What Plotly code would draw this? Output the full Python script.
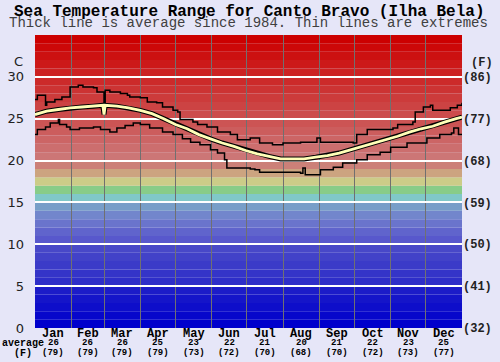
import plotly.graph_objects as go

# ---------------- data ----------------
months = ["Jan", "Feb", "Mar", "Apr", "May", "Jun", "Jul", "Aug", "Sep", "Oct", "Nov", "Dec"]
month_start = [0, 31, 59, 90, 120, 151, 181, 212, 243, 273, 304, 334, 365]
avg_c = [26, 26, 26, 25, 23, 22, 21, 20, 21, 22, 23, 25]
avg_f = [79, 79, 79, 79, 73, 72, 70, 68, 70, 72, 73, 77]

c_ticks = [0, 5, 10, 15, 20, 25, 30]
f_ticks = [32, 41, 50, 59, 68, 77, 86]

max_day = [0, 2, 9, 10, 17, 23, 30, 37, 41, 50, 53, 59, 60, 64, 73, 79, 81, 90, 96,
           104, 109, 118, 122, 124, 135, 139, 147, 156, 167, 173, 184, 192, 203, 212,
           227, 241, 244, 272, 275, 284, 306, 310, 323, 325, 332, 338, 340, 355, 361, 365]
max_temp = [27.3, 27.8, 26.6, 27.0, 27.3, 27.6, 28.8, 29.0, 28.8, 28.7, 28.2, 26.9, 28.4,
            28.2, 28.0, 27.8, 27.6, 27.5, 27.0, 26.9, 26.4, 26.0, 25.8, 24.9, 24.6, 24.3,
            24.0, 23.4, 23.1, 22.5, 22.7, 22.1, 21.9, 22.1, 22.2, 22.7, 22.2, 22.1, 23.1,
            23.7, 23.9, 24.3, 24.6, 25.8, 26.4, 26.6, 26.0, 26.3, 26.6, 26.9]

min_day = [0, 2, 9, 13, 20, 21, 27, 30, 38, 50, 56, 64, 70, 77, 84, 90, 98, 109, 118,
           126, 133, 141, 150, 156, 162, 164, 184, 188, 192, 227, 229, 231, 240, 244,
           255, 263, 275, 284, 295, 304, 318, 335, 346, 356, 358, 362, 365]
min_temp = [23.1, 23.7, 24.0, 24.5, 24.9, 24.3, 24.0, 23.7, 23.9, 24.0, 23.7, 23.4, 23.9,
            24.2, 24.5, 24.3, 23.9, 23.4, 23.1, 22.6, 22.2, 21.9, 21.3, 20.9, 20.1, 19.1,
            19.0, 18.9, 18.6, 18.5, 19.1, 18.3, 18.3, 18.9, 19.2, 19.7, 20.1, 20.7, 21.0,
            21.6, 22.1, 22.7, 23.1, 23.3, 23.9, 23.1, 23.1]

avg_day = [0, 10, 20, 30, 40, 50, 58, 59, 60, 70, 80, 90, 100, 110, 120, 130, 140, 150,
           160, 170, 180, 190, 200, 210, 220, 230, 240, 250, 260, 270, 280, 290, 300,
           310, 320, 330, 340, 350, 360, 365]
avg_temp = [25.5, 25.9, 26.1, 26.3, 26.4, 26.5, 26.6, 25.5, 26.6, 26.5, 26.3, 26.0, 25.6,
            25.0, 24.3, 23.8, 23.1, 22.6, 22.1, 21.7, 21.2, 20.8, 20.5, 20.2, 20.2, 20.2,
            20.4, 20.6, 20.9, 21.3, 21.7, 22.1, 22.5, 22.9, 23.4, 23.8, 24.1, 24.6, 25.0,
            25.2]

# ---------------- style ----------------
BG = "#E6E6F8"
MONO = "Liberation Mono, Courier New, monospace"
SANS = "DejaVu Sans, Verdana, sans-serif"

stops = {0: (0, 0, 204), 4: (28, 28, 200), 5: (46, 46, 200), 9: (72, 72, 200),
         10: (88, 88, 204), 11: (96, 100, 204), 12: (106, 116, 204), 13: (114, 134, 204),
         14: (120, 158, 200), 15: (128, 200, 200), 16: (136, 204, 136), 17: (204, 204, 136),
         18: (204, 164, 128), 19: (204, 128, 120), 20: (204, 118, 118), 34: (204, 0, 0)}


def band_color(i):
    keys = sorted(stops)
    for a, b in zip(keys[:-1], keys[1:]):
        if a <= i <= b:
            t = (i - a) / (b - a)
            c = [round(stops[a][k] + (stops[b][k] - stops[a][k]) * t) for k in range(3)]
            return "rgb(%d,%d,%d)" % tuple(c)
    return "rgb(%d,%d,%d)" % stops[keys[-1]]


fig = go.Figure()

fig.add_trace(go.Scatter(x=max_day, y=max_temp, mode="lines", line=dict(color="black", width=1.5, shape="hv"),
                         hoverinfo="skip", showlegend=False))
fig.add_trace(go.Scatter(x=min_day, y=min_temp, mode="lines", line=dict(color="black", width=1.5, shape="hv"),
                         hoverinfo="skip", showlegend=False))
fig.add_trace(go.Scatter(x=avg_day, y=avg_temp, mode="lines", line=dict(color="black", width=5),
                         hoverinfo="skip", showlegend=False))
fig.add_trace(go.Scatter(x=avg_day, y=avg_temp, mode="lines", line=dict(color="#FFFFB8", width=2.8),
                         hoverinfo="skip", showlegend=False))
fig.add_trace(go.Scatter(x=[month_start[0]], y=[f_ticks[0]], yaxis="y2", mode="markers",
                         marker=dict(opacity=0), hoverinfo="skip", showlegend=False))

shapes = []
for i in range(35):
    shapes.append(dict(type="rect", xref="paper", yref="y", x0=0, x1=1, y0=i, y1=i + 1,
                       fillcolor=band_color(i), line=dict(width=0), layer="below"))

annotations = [
    dict(text="<b>Sea Temperature Range for Canto Bravo (Ilha Bela)</b>", xref="paper", yref="paper",
         x=0.5, y=1, yshift=23, xanchor="center", yanchor="middle", showarrow=False,
         font=dict(family=MONO, size=16, color="black")),
    dict(text="Thick line is average since 1984. Thin lines are extremes", xref="paper", yref="paper",
         x=0.5, y=1, yshift=12, xanchor="center", yanchor="middle", showarrow=False,
         font=dict(family=MONO, size=14, color="#404040")),
    dict(text="C", xref="paper", yref="y", x=0, xshift=-17, y=31.8, xanchor="center", yanchor="middle",
         showarrow=False, font=dict(family=SANS, size=13, color="#222")),
    dict(text="<b>(F)</b>", xref="paper", yref="y", x=1, xshift=20, y=31.7, xanchor="center", yanchor="middle",
         showarrow=False, font=dict(family=MONO, size=12, color="#222")),
    dict(text="<b>average</b>", xref="paper", yref="paper", x=0, xshift=-12, y=0, yshift=-15,
         xanchor="center", yanchor="middle", showarrow=False, font=dict(family=MONO, size=10, color="black")),
    dict(text="<b>(F)</b>", xref="paper", yref="paper", x=0, xshift=-12, y=0, yshift=-25,
         xanchor="center", yanchor="middle", showarrow=False, font=dict(family=MONO, size=10, color="black")),
]
for i, m in enumerate(months):
    mid = (month_start[i] + month_start[i + 1]) / 2
    annotations.append(dict(text="<b>%s</b>" % m, xref="x", yref="paper", x=mid, y=0, yshift=-6,
                            xanchor="center", yanchor="middle", showarrow=False,
                            font=dict(family=MONO, size=12, color="black")))
    annotations.append(dict(text="<b>%d</b>" % avg_c[i], xref="x", yref="paper", x=mid, y=0, yshift=-15,
                            xanchor="center", yanchor="middle", showarrow=False,
                            font=dict(family=MONO, size=9, color="black")))
    annotations.append(dict(text="<b>(%d)</b>" % avg_f[i], xref="x", yref="paper", x=mid, y=0, yshift=-25,
                            xanchor="center", yanchor="middle", showarrow=False,
                            font=dict(family=MONO, size=9, color="black")))

fig.update_layout(
    width=500, height=362,
    margin=dict(l=35, r=38, t=35, b=34, autoexpand=False),
    paper_bgcolor=BG, plot_bgcolor=BG,
    shapes=shapes, annotations=annotations,
    xaxis=dict(range=[0, 365], tickvals=month_start[1:-1], showticklabels=False, showgrid=True,
               gridcolor="#707070", gridwidth=1, zeroline=False, showline=False, ticks="",
               automargin=False),
    yaxis=dict(range=[0, 35], tickvals=c_ticks, ticktext=[str(v) for v in c_ticks], showgrid=True,
               gridcolor="white", gridwidth=2, zeroline=False, showline=False, ticks="",
               ticklabelstandoff=10, tickfont=dict(family=SANS, size=13, color="#222"),
               automargin=False),
    yaxis2=dict(range=[32, 95], overlaying="y", side="right", tickvals=f_ticks,
                ticktext=["<b>(%d)</b>" % v for v in f_ticks], showgrid=False, zeroline=False,
                showline=False, ticks="", ticklabelstandoff=0,
                tickfont=dict(family=MONO, size=12, color="#222"), automargin=False),
    showlegend=False,
)

fig.write_html("out.html", config={"displayModeBar": False},
               post_script="document.body.style.margin='0';document.body.style.background='%s';" % BG)
